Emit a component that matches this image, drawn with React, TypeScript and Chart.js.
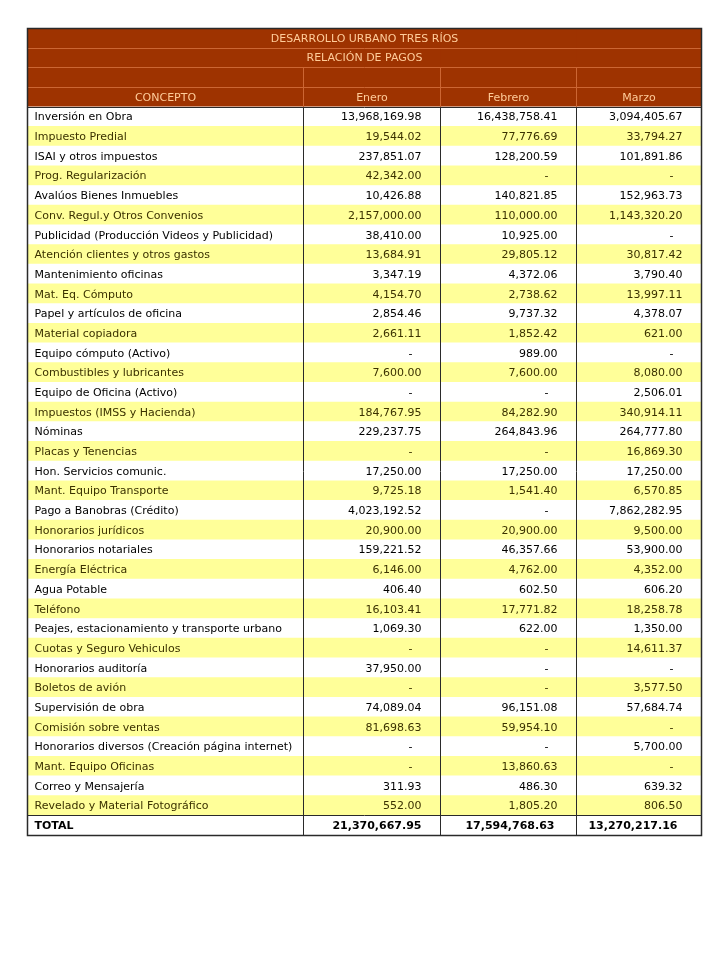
import React, { useEffect, useRef } from "react";
import { Chart, registerables } from "chart.js";

Chart.register(...registerables);

const TITLE = "DESARROLLO URBANO TRES RÍOS";
const SUBTITLE = "RELACIÓN DE PAGOS";
const COLUMN_HEADERS = ["CONCEPTO", "Enero", "Febrero", "Marzo"];

const CONCEPTS = [
  "Inversión en Obra",
  "Impuesto Predial",
  "ISAI y otros impuestos",
  "Prog. Regularización",
  "Avalúos Bienes Inmuebles",
  "Conv. Regul.y Otros Convenios",
  "Publicidad (Producción Videos y Publicidad)",
  "Atención clientes y otros gastos",
  "Mantenimiento oficinas",
  "Mat. Eq. Cómputo",
  "Papel y artículos de oficina",
  "Material copiadora",
  "Equipo cómputo (Activo)",
  "Combustibles y lubricantes",
  "Equipo de Oficina (Activo)",
  "Impuestos (IMSS y Hacienda)",
  "Nóminas",
  "Placas y Tenencias",
  "Hon. Servicios comunic.",
  "Mant. Equipo Transporte",
  "Pago a Banobras (Crédito)",
  "Honorarios jurídicos",
  "Honorarios notariales",
  "Energía Eléctrica",
  "Agua Potable",
  "Teléfono",
  "Peajes, estacionamiento y transporte urbano",
  "Cuotas y Seguro Vehiculos",
  "Honorarios auditoría",
  "Boletos de avión",
  "Supervisión de obra",
  "Comisión sobre ventas",
  "Honorarios diversos (Creación página internet)",
  "Mant. Equipo Oficinas",
  "Correo y Mensajería",
  "Revelado y Material Fotográfico",
];

const ENERO: (number | null)[] = [
  13968169.98, 19544.02, 237851.07, 42342.0, 10426.88, 2157000.0, 38410.0,
  13684.91, 3347.19, 4154.7, 2854.46, 2661.11, null, 7600.0, null, 184767.95,
  229237.75, null, 17250.0, 9725.18, 4023192.52, 20900.0, 159221.52, 6146.0,
  406.4, 16103.41, 1069.3, null, 37950.0, null, 74089.04, 81698.63, null, null,
  311.93, 552.0,
];

const FEBRERO: (number | null)[] = [
  16438758.41, 77776.69, 128200.59, null, 140821.85, 110000.0, 10925.0,
  29805.12, 4372.06, 2738.62, 9737.32, 1852.42, 989.0, 7600.0, null, 84282.9,
  264843.96, null, 17250.0, 1541.4, null, 20900.0, 46357.66, 4762.0, 602.5,
  17771.82, 622.0, null, null, null, 96151.08, 59954.1, null, 13860.63, 486.3,
  1805.2,
];

const MARZO: (number | null)[] = [
  3094405.67, 33794.27, 101891.86, null, 152963.73, 1143320.2, null, 30817.42,
  3790.4, 13997.11, 4378.07, 621.0, null, 8080.0, 2506.01, 340914.11,
  264777.8, 16869.3, 17250.0, 6570.85, 7862282.95, 9500.0, 53900.0, 4352.0,
  606.2, 18258.78, 1350.0, 14611.37, null, 3577.5, 57684.74, null, 5700.0, null,
  639.32, 806.5,
];

const TOTAL_LABEL = "TOTAL";
const TOTALS = [21370667.95, 17594768.63, 13270217.16];

// layout (table column edges in x-scale units)
const COL_EDGES = [0, 276, 413, 549, 674];

const BROWN = "#9E3300";
const HEADER_TEXT = "#FFCC99";
const HEADER_LINE = "#CC6633";
const YELLOW = "#FFFF99";
const DARK = "#2a2a2a";
const FONT = "11px 'DejaVu Sans', Verdana, sans-serif";
const FONT_BOLD = "bold 11px 'DejaVu Sans', Verdana, sans-serif";

const HEADER_ROWS = 4;
const ROW_KEYS = ["title", "subtitle", "blank", "head", ...CONCEPTS, TOTAL_LABEL];

const fmt = (v: number) =>
  v.toLocaleString("en-US", { minimumFractionDigits: 2, maximumFractionDigits: 2 });

function rowColor(i: number) {
  if (i < HEADER_ROWS) return BROWN;
  if (i === ROW_KEYS.length - 1) return "#FFFFFF";
  return (i - HEADER_ROWS) % 2 === 1 ? YELLOW : "#FFFFFF";
}

const tablePlugin = {
  id: "tableText",
  afterDatasetsDraw(chart: any) {
    const ctx = chart.ctx as CanvasRenderingContext2D;
    const x = chart.scales.x;
    const y = chart.scales.y;
    const xs = COL_EDGES.map((e) => Math.round(x.getPixelForValue(e)) + 0.5);
    const top = (i: number) => Math.round(y.getPixelForValue(i - 0.5)) + 0.5;
    const mid = (i: number) => y.getPixelForValue(i) + 1;
    const nRows = ROW_KEYS.length;
    const left = xs[0];
    const right = xs[xs.length - 1];
    const bottom = top(nRows);

    ctx.save();
    // header light lines
    ctx.strokeStyle = HEADER_LINE;
    ctx.lineWidth = 1;
    ctx.beginPath();
    for (let r = 1; r < HEADER_ROWS; r++) {
      ctx.moveTo(left, top(r));
      ctx.lineTo(right, top(r));
    }
    for (let c = 1; c < xs.length - 1; c++) {
      ctx.moveTo(xs[c], top(2));
      ctx.lineTo(xs[c], top(HEADER_ROWS));
    }
    ctx.stroke();

    // dark lines
    ctx.strokeStyle = DARK;
    ctx.beginPath();
    for (let c = 1; c < xs.length - 1; c++) {
      ctx.moveTo(xs[c], top(HEADER_ROWS));
      ctx.lineTo(xs[c], bottom);
    }
    ctx.moveTo(left, top(HEADER_ROWS));
    ctx.lineTo(right, top(HEADER_ROWS));
    ctx.moveTo(left, top(nRows - 1));
    ctx.lineTo(right, top(nRows - 1));
    ctx.stroke();
    ctx.lineWidth = 1.5;
    ctx.strokeRect(left, top(0), right - left, bottom - top(0));

    // header text
    ctx.textBaseline = "middle";
    ctx.font = FONT;
    ctx.fillStyle = HEADER_TEXT;
    ctx.textAlign = "center";
    ctx.fillText(TITLE, (left + right) / 2, mid(0));
    ctx.fillText(SUBTITLE, (left + right) / 2, mid(1));
    COLUMN_HEADERS.forEach((h, c) => {
      ctx.fillText(h, (xs[c] + xs[c + 1]) / 2, mid(3));
    });

    // body
    const cols = [ENERO, FEBRERO, MARZO];
    CONCEPTS.forEach((name, k) => {
      const r = k + HEADER_ROWS;
      const yy = mid(r);
      ctx.fillStyle = k % 2 === 1 ? "#3b3200" : "#000000";
      ctx.textAlign = "left";
      ctx.fillText(name, left + 7, yy);
      cols.forEach((arr, c) => {
        const v = arr[k];
        ctx.textAlign = "right";
        if (v === null) ctx.fillText("-", xs[c + 2] - 28, yy);
        else ctx.fillText(fmt(v), xs[c + 2] - 19, yy);
      });
    });

    // total
    const tr = nRows - 1;
    ctx.font = FONT_BOLD;
    ctx.fillStyle = "#000000";
    ctx.textAlign = "left";
    ctx.fillText(TOTAL_LABEL, left + 7, mid(tr));
    TOTALS.forEach((v, c) => {
      ctx.textAlign = "right";
      ctx.fillText(fmt(v), xs[c + 2] - (c === 0 ? 19 : c === 1 ? 22 : 24), mid(tr));
    });
    ctx.restore();
  },
};

export default function App() {
  const ref = useRef<HTMLCanvasElement | null>(null);
  useEffect(() => {
    if (!ref.current) return;
    const datasets = COLUMN_HEADERS.map((h, c) => ({
      label: h,
      data: ROW_KEYS.map(() => [COL_EDGES[c], COL_EDGES[c + 1]]),
      backgroundColor: ROW_KEYS.map((_, i) => rowColor(i)),
      borderWidth: 0,
      grouped: false,
      barPercentage: 1,
      categoryPercentage: 1,
    }));
    const chart = new Chart(ref.current, {
      type: "bar",
      data: { labels: ROW_KEYS, datasets: datasets as any },
      options: {
        indexAxis: "y",
        animation: false,
        responsive: true,
        maintainAspectRatio: false,
        devicePixelRatio: 1,
        layout: { padding: { left: 27, top: 28, right: 19, bottom: 125 } },
        scales: {
          x: { type: "linear", min: COL_EDGES[0], max: COL_EDGES[COL_EDGES.length - 1], display: false },
          y: { type: "category", display: false, offset: true },
        },
        plugins: { legend: { display: false }, tooltip: { enabled: false }, title: { display: false } },
      },
      plugins: [tablePlugin],
    });
    return () => chart.destroy();
  }, []);
  return (
    <div style={{ position: "fixed", left: 0, top: 0, width: 720, height: 960, background: "#fff" }}>
      <canvas ref={ref} />
    </div>
  );
}
